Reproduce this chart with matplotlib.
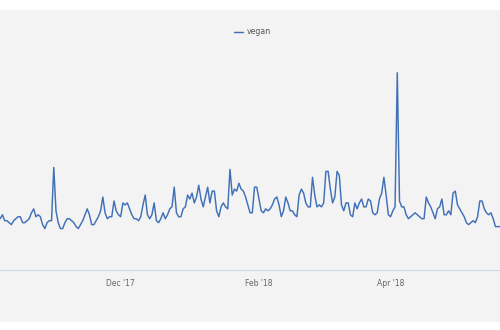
import datetime as dt
import numpy as np
import matplotlib
matplotlib.use("Agg")
import matplotlib.pyplot as plt
import matplotlib.dates as mdates
from matplotlib.patches import Rectangle

# Daily search interest for "vegan", starting 8 Oct 2017
start_date = dt.date(2017, 10, 8)
series_name = "vegan"
values = [
    26, 28, 25, 25, 24, 23, 25, 26, 27, 27,
    24, 24, 25, 26, 29, 31, 27, 28, 27, 23,
    21, 24, 25, 25, 52, 30, 24, 21, 21, 24,
    26, 26, 25, 24, 22, 21, 23, 25, 28, 31,
    28, 23, 23, 25, 27, 30, 37, 29, 26, 27,
    27, 35, 30, 28, 27, 34, 33, 34, 31, 28,
    26, 26, 25, 27, 33, 38, 28, 26, 28, 34,
    25, 24, 26, 29, 26, 28, 31, 32, 42, 29,
    27, 27, 31, 32, 38, 36, 39, 34, 37, 43,
    36, 32, 37, 42, 34, 40, 40, 30, 27, 32,
    34, 32, 31, 51, 38, 41, 40, 44, 41, 40,
    37, 33, 29, 29, 42, 42, 36, 30, 29, 31,
    30, 31, 33, 36, 37, 33, 27, 30, 37, 34,
    30, 30, 28, 27, 38, 41, 39, 34, 32, 32,
    47, 38, 32, 33, 32, 34, 50, 50, 41, 34,
    37, 50, 48, 33, 30, 34, 34, 28, 27, 34,
    31, 34, 36, 32, 32, 36, 35, 29, 28, 29,
    36, 39, 47, 38, 28, 27, 30, 32, 100, 35,
    32, 32, 28, 26, 27, 28, 29, 28, 27, 26,
    26, 37, 34, 32, 29, 26, 31, 32, 36, 28,
    28, 30, 28, 39, 40, 33, 31, 29, 27, 24,
    23, 24, 25, 24, 27, 35, 35, 31, 29, 28,
    29, 26, 22, 22, 22,
]
dates = [start_date + dt.timedelta(days=i) for i in range(len(values))]

line_color = "#4070b8"
panel_color = "#f3f3f3"
axis_color = "#ccd6eb"
label_color = "#666666"

fig = plt.figure(figsize=(5.0, 3.3), dpi=100, facecolor="white")

# grey chart panel behind the plot
fig.patches.append(Rectangle((0, 1 - 322 / 330), 1, (322 - 10) / 330,
                             transform=fig.transFigure, facecolor=panel_color,
                             edgecolor="none", zorder=-10))

ax = fig.add_axes([0.0, 1 - 270 / 330, 1.0, (270 - 55) / 330])
ax.set_zorder(1)
ax.set_facecolor("none")
ax.plot(dates, values, color=line_color, lw=1.05, label=series_name,
        solid_joinstyle="round", solid_capstyle="round")

ax.set_xlim(mdates.date2num(dates[0]) - 0.1, mdates.date2num(dates[-1]) + 0.05)
ax.set_ylim(0, 109)

for side in ("top", "left", "right"):
    ax.spines[side].set_visible(False)
ax.spines["bottom"].set_color(axis_color)
ax.spines["bottom"].set_linewidth(0.8)
ax.set_yticks([])

ax.xaxis.set_major_locator(mdates.MonthLocator(bymonth=[12, 2, 4]))
ax.xaxis.set_major_formatter(mdates.DateFormatter("%b '%y"))
ax.tick_params(axis="x", length=0, pad=6.5, labelsize=5.5, labelcolor=label_color)

leg = fig.legend(loc="center", bbox_to_anchor=(0.505, 1 - 32 / 330), frameon=False,
                 fontsize=5.6, handlelength=1.1, handletextpad=0.5,
                 labelcolor="#555555")
leg.set_zorder(2)

fig.savefig("out.png", dpi=100, facecolor="white")
